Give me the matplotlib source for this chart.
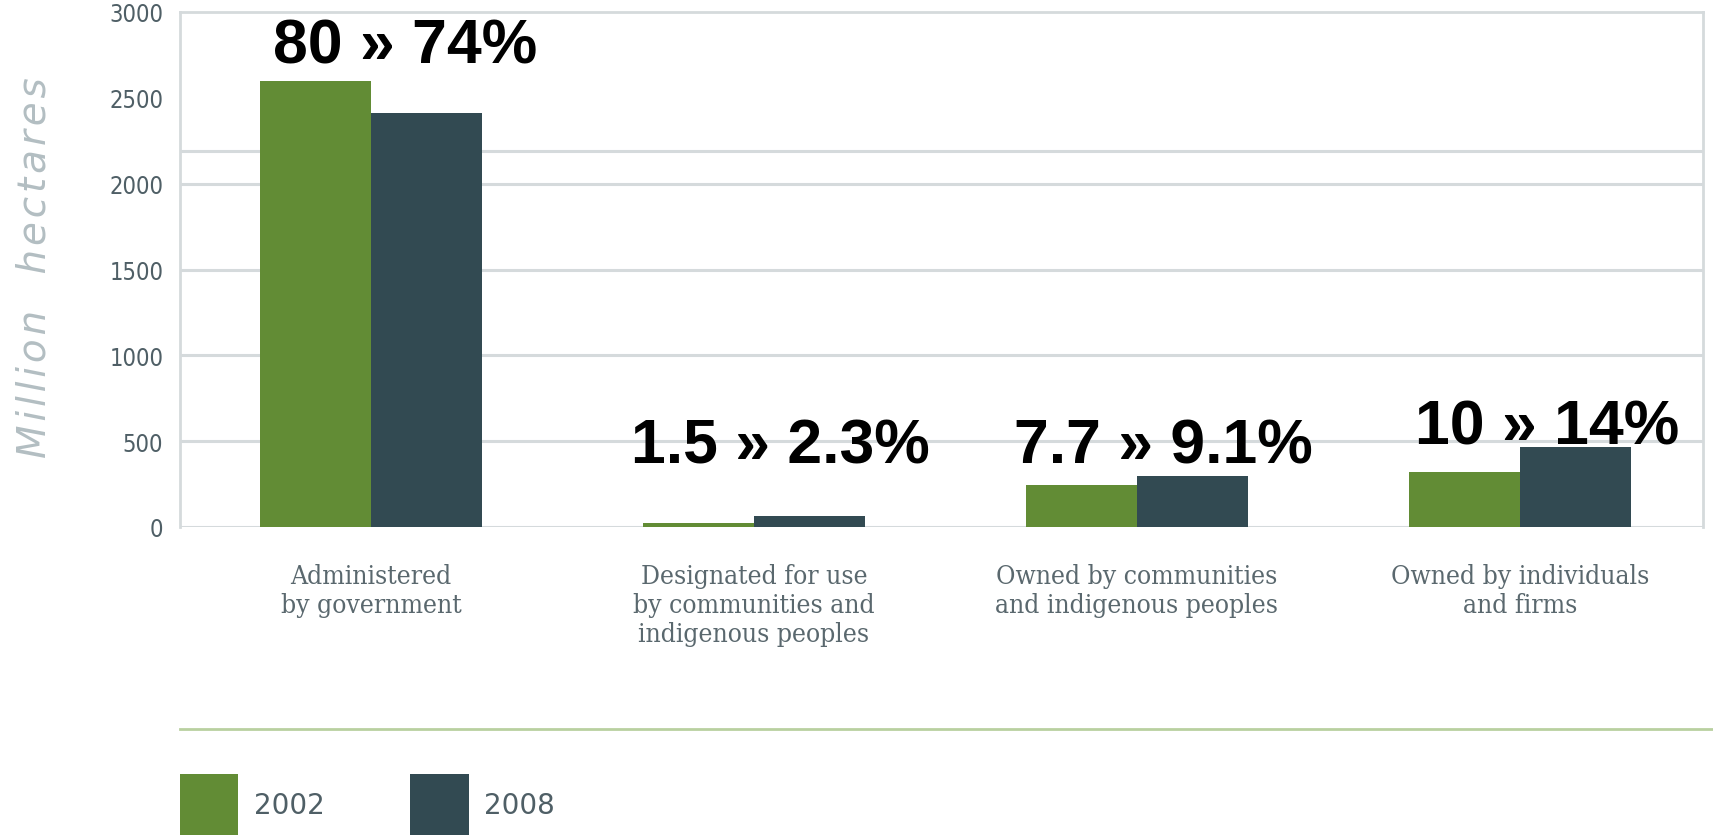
import matplotlib.pyplot as plt
import numpy as np
from matplotlib.lines import Line2D

# forest tenure, million hectares
categories = [
    "Administered\nby government",
    "Designated for use\nby communities and\nindigenous peoples",
    "Owned by communities\nand indigenous peoples",
    "Owned by individuals\nand firms",
]
years = ["2002", "2008"]
values_2002 = [2600, 25, 245, 320]
values_2008 = [2410, 62, 295, 465]
share_labels = ["80 » 74%", "1.5 » 2.3%", "7.7 » 9.1%", "10 » 14%"]
share_label_y = [2800, 470, 470, 580]

GREEN = "#628c35"
DARK = "#324a52"
GRID = "#d5dadc"
TICK_TXT = "#4f5f66"

W, H = 1713, 837
fig = plt.figure(figsize=(W / 100, H / 100), dpi=100)
ax = fig.add_axes([180 / W, 1 - 528 / H, (1703 - 180) / W, (528 - 13) / H])

x = np.arange(len(categories))
bw = 0.29
b1 = ax.bar(x - bw / 2, values_2002, bw, color=GREEN, label=years[0], zorder=3)
b2 = ax.bar(x + bw / 2, values_2008, bw, color=DARK, label=years[1], zorder=3)

ax.set_xlim(-0.499, 3.478)
ax.set_ylim(0, 3000)
ax.set_yticks(range(0, 3001, 500))
ax.set_yticklabels([str(v) for v in range(0, 3001, 500)],
                   family="DejaVu Sans", fontstretch="condensed")
ax.tick_params(axis="y", length=0, pad=12, labelsize=17, labelcolor=TICK_TXT)
ax.set_xticks(x)
ax.set_xticklabels(categories, fontsize=19, color="#5a686e",
                   family="DejaVu Serif", fontstretch="condensed", linespacing=1.2,
                   va="top")
ax.tick_params(axis="x", length=0, pad=26)

# grid: horizontal lines only
for v in [0, 500, 1000, 1500, 2000, 2190]:
    ax.axhline(v, color=GRID, lw=2.2, zorder=1)
for side in ["left", "right", "top"]:
    ax.spines[side].set_color(GRID)
    ax.spines[side].set_linewidth(2)
ax.spines["bottom"].set_visible(False)

# slightly letter-spaced axis title
ylab = "\u200a".join("Million  hectares")
ax.set_ylabel(ylab, fontsize=28, style="italic", color="#b3bec2", fontweight="light")
ax.yaxis.set_label_coords(-0.083, 0.505)

x_shift = [0.09, 0.07, 0.07, 0.07]
for i, (txt, y) in enumerate(zip(share_labels, share_label_y)):
    ax.text(x[i] + x_shift[i], y, txt, ha="center", va="center", fontsize=45,
            fontweight="bold", family="Liberation Sans", color="black", zorder=4)

# separator above legend
fig.add_artist(Line2D([180 / W, 1], [1 - 730 / H] * 2, color="#b9d0a0", lw=2))

fig.legend(handles=[b1, b2], labels=years, loc="upper left",
           bbox_to_anchor=(180 / W, 1 - 775 / H), frameon=False, ncol=2,
           fontsize=20, handlelength=2.1, handleheight=3.0, handletextpad=0.55,
           columnspacing=3.1, borderpad=0, borderaxespad=0,
           labelcolor=TICK_TXT)

fig.savefig("out.png", dpi=100)
